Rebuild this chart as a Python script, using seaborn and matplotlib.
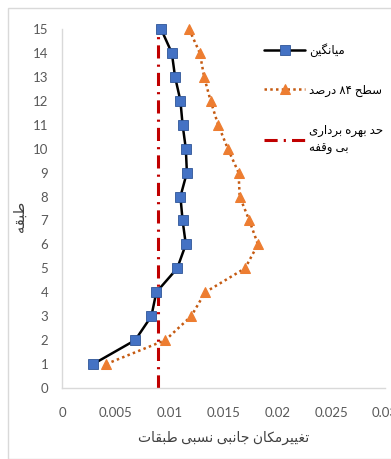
import matplotlib
matplotlib.use("Agg")
import matplotlib.pyplot as plt
import seaborn as sns
import pandas as pd
from matplotlib.patches import Rectangle

# ---------------- data ----------------
stories = list(range(1, 16))
mean_drift = [0.0029, 0.0068, 0.0083, 0.00876, 0.0107, 0.0115, 0.0112, 0.0110,
              0.0116, 0.0115, 0.0112, 0.0110, 0.0105, 0.0102, 0.0092]
p84_drift = [0.0041, 0.0096, 0.0120, 0.0133, 0.0170, 0.0182, 0.0174, 0.0165,
             0.0164, 0.0154, 0.0145, 0.0138, 0.0132, 0.0128, 0.0118]
limit_x = [0.0089, 0.0089]
limit_y = [0, 15]

label_mean = "میانگین"
label_p84 = "سطح ۸۴ درصد"
label_limit = "حد بهره برداری\nبی وقفه"
xlabel_text = "تغییرمکان جانبی نسبی طبقات"
ylabel_text = "طبقه"

x_ticks = [0, 0.005, 0.01, 0.015, 0.02, 0.025, 0.03]
x_ticklabels = ["0", "0.005", "0.01", "0.015", "0.02", "0.025", "0.03"]
y_ticks = list(range(0, 16))

# ------------- simple Persian shaping (visual order) -------------
FORMS = {
    'ا': ('\uFE8D', '\uFE8E', None, None),
    'ب': ('\uFE8F', '\uFE90', '\uFE91', '\uFE92'),
    'ت': ('\uFE95', '\uFE96', '\uFE97', '\uFE98'),
    'ج': ('\uFE9D', '\uFE9E', '\uFE9F', '\uFEA0'),
    'ح': ('\uFEA1', '\uFEA2', '\uFEA3', '\uFEA4'),
    'د': ('\uFEA9', '\uFEAA', None, None),
    'ر': ('\uFEAD', '\uFEAE', None, None),
    'س': ('\uFEB1', '\uFEB2', '\uFEB3', '\uFEB4'),
    'ص': ('\uFEB9', '\uFEBA', '\uFEBB', '\uFEBC'),
    'ط': ('\uFEC1', '\uFEC2', '\uFEC3', '\uFEC4'),
    'غ': ('\uFECD', '\uFECE', '\uFECF', '\uFED0'),
    'ف': ('\uFED1', '\uFED2', '\uFED3', '\uFED4'),
    'ق': ('\uFED5', '\uFED6', '\uFED7', '\uFED8'),
    'م': ('\uFEE1', '\uFEE2', '\uFEE3', '\uFEE4'),
    'ن': ('\uFEE5', '\uFEE6', '\uFEE7', '\uFEE8'),
    'ه': ('\uFEE9', '\uFEEA', '\uFEEB', '\uFEEC'),
    'و': ('\uFEED', '\uFEEE', None, None),
    'ک': ('\uFB8E', '\uFB8F', '\uFB90', '\uFB91'),
    'گ': ('\uFB92', '\uFB93', '\uFB94', '\uFB95'),
    'ی': ('\uFBFC', '\uFBFD', '\uFBFE', '\uFBFF'),
}


def shape_word(w):
    out = []
    for i, c in enumerate(w):
        if c not in FORMS:
            out.append(c)
            continue
        prev = w[i - 1] if i > 0 else None
        nxt = w[i + 1] if i + 1 < len(w) else None
        jp = prev in FORMS and FORMS[prev][2] is not None
        jn = nxt in FORMS and FORMS[c][2] is not None
        iso, fin, ini, med = FORMS[c]
        if jp and jn:
            out.append(med)
        elif jp:
            out.append(fin)
        elif jn:
            out.append(ini)
        else:
            out.append(iso)
    return ''.join(out)


def rtl(text):
    lines = []
    for line in text.split('\n'):
        words = []
        for w in line.split(' '):
            if any(c in FORMS for c in w):
                words.append(shape_word(w)[::-1])
            else:
                words.append(w)
        lines.append(' '.join(reversed(words)))
    return '\n'.join(lines)


# ---------------- plot ----------------
sns.set_style("white")
plt.rcParams['font.family'] = ['Lato', 'DejaVu Sans']

fig = plt.figure(figsize=(3.91, 4.59), dpi=100)
fig.add_artist(Rectangle((8 / 391, 0.0), 1.0, 1 - 8 / 459, transform=fig.transFigure,
                         fill=False, edgecolor='#D9D9D9', linewidth=1.0))
ax = fig.add_axes([62 / 391, 1 - 388 / 459, 323 / 391, (388 - 29) / 459])

df_mean = pd.DataFrame({'x': mean_drift, 'y': stories})
df_p84 = pd.DataFrame({'x': p84_drift, 'y': stories})
df_lim = pd.DataFrame({'x': limit_x, 'y': limit_y})

sns.lineplot(data=df_lim, x='x', y='y', sort=False, estimator=None, ax=ax,
             color='#C00000', linewidth=2.2, dashes=False,
             label=rtl(label_limit), clip_on=False)
ax.lines[-1].set_dashes((4.3, 2.0, 0.7, 2.0))

sns.lineplot(data=df_p84, x='x', y='y', sort=False, estimator=None, ax=ax,
             color='#C55A11', linewidth=1.8, marker='^', markersize=7.5,
             markerfacecolor='#ED7D31', markeredgecolor='#ED7D31',
             label=rtl(label_p84), clip_on=False)
ax.lines[-1].set_linestyle((0, (1, 1.3)))

sns.lineplot(data=df_mean, x='x', y='y', sort=False, estimator=None, ax=ax,
             color='black', linewidth=1.8, marker='s', markersize=6.5,
             markerfacecolor='#4472C4', markeredgecolor='#2F5597', markeredgewidth=0.6,
             label=rtl(label_mean), clip_on=False)

ax.set_xlim(0, 0.03)
ax.set_ylim(0, 15)
ax.set_xticks(x_ticks)
ax.set_xticklabels(x_ticklabels)
ax.set_yticks(y_ticks)
ax.tick_params(axis='both', length=0, labelsize=9.5, colors='#595959', pad=10)
ax.tick_params(axis='x', pad=14)

for s in ['top', 'right']:
    ax.spines[s].set_visible(False)
for s in ['left', 'bottom']:
    ax.spines[s].set_color('#D9D9D9')
    ax.spines[s].set_linewidth(1.0)

ax.set_xlabel(rtl(xlabel_text), fontsize=10, color='#404040', labelpad=8)
ax.set_ylabel(rtl(ylabel_text), fontsize=10.5, color='#404040')
ax.yaxis.set_label_coords(27 / 391, 1 - 216 / 459, transform=fig.transFigure)

handles, labels = ax.get_legend_handles_labels()
order = [2, 1, 0]
leg = ax.legend([handles[i] for i in order], [labels[i] for i in order],
                loc='upper left', bbox_to_anchor=(264 / 391, 1 - 43 / 459),
                bbox_transform=fig.transFigure, frameon=False, fontsize=8.5,
                handlelength=3.5, handletextpad=0.35, labelspacing=2.35,
                borderaxespad=0, borderpad=0)
for t in leg.get_texts():
    t.set_color('#000000')
leg.get_texts()[2].set_linespacing(1.75)

fig.savefig('out.png', dpi=100)
